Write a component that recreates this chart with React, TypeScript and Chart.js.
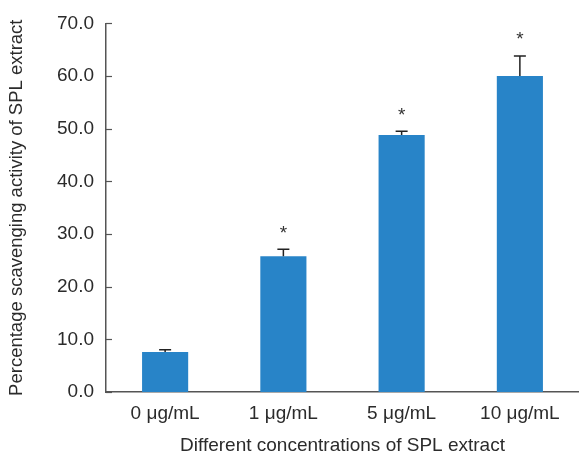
import React, { useEffect, useRef } from "react";
import { Chart, registerables } from "chart.js";

Chart.register(...registerables);

const categories = ["0 μg/mL", "1 μg/mL", "5 μg/mL", "10 μg/mL"];
const means = [7.6, 25.8, 48.8, 60.0];
const errors = [0.4, 1.3, 0.7, 3.8];
const significant = [false, true, true, true];
const yTicks = [0, 10, 20, 30, 40, 50, 60, 70];

const FONT = "'Liberation Sans', Arial, Helvetica, sans-serif";
const TEXT = "#2b2b2b";
const AXIS = "#555555";

const overlayPlugin = {
  id: "overlay",
  afterDatasetsDraw(chart: any) {
    const ctx = chart.ctx;
    const x = chart.scales.x;
    const y = chart.scales.y;
    ctx.save();
    // inward y ticks
    ctx.strokeStyle = AXIS;
    ctx.lineWidth = 1.2;
    yTicks.forEach((t) => {
      const py = Math.round(y.getPixelForValue(t)) + 0.5;
      ctx.beginPath();
      ctx.moveTo(x.left, py);
      ctx.lineTo(x.left + 6, py);
      ctx.stroke();
    });
    // error bars and asterisks
    means.forEach((m, i) => {
      const px = x.getPixelForValue(i);
      const top = y.getPixelForValue(m + errors[i]);
      const base = y.getPixelForValue(m);
      ctx.strokeStyle = "#222222";
      ctx.lineWidth = 1.5;
      ctx.beginPath();
      ctx.moveTo(px, base);
      ctx.lineTo(px, top);
      ctx.moveTo(px - 6, top);
      ctx.lineTo(px + 6, top);
      ctx.stroke();
      if (significant[i]) {
        ctx.fillStyle = "#333333";
        ctx.font = `19px ${FONT}`;
        ctx.textAlign = "center";
        ctx.textBaseline = "middle";
        ctx.fillText("*", px, top - 16);
      }
    });
    ctx.restore();
  },
};

export default function App() {
  const ref = useRef<HTMLCanvasElement>(null);
  useEffect(() => {
    if (!ref.current) return;
    const chart = new Chart(ref.current, {
      type: "bar",
      data: {
        labels: categories,
        datasets: [
          {
            data: means,
            backgroundColor: "#2884c8",
            borderWidth: 0,
            barPercentage: 0.39,
            categoryPercentage: 1,
          },
        ],
      },
      options: {
        animation: false,
        responsive: false,
        maintainAspectRatio: false,
        layout: { padding: { top: 23, right: 0, left: 0, bottom: 0 } },
        plugins: {
          legend: { display: false },
          tooltip: { enabled: false },
        },
        scales: {
          x: {
            grid: { display: false, drawTicks: false },
            border: { display: true, color: AXIS, width: 1.5 },
            ticks: {
              color: TEXT,
              font: { family: FONT, size: 19 },
              padding: 10,
              maxRotation: 0,
            },
            title: {
              display: true,
              text: "Different concentrations of SPL extract",
              color: TEXT,
              font: { family: FONT, size: 19 },
              padding: { top: 4, bottom: 0 },
            },
            afterFit(scale: any) {
              scale.height = 65;
            },
          },
          y: {
            min: 0,
            max: 70,
            grid: { display: false, drawTicks: false },
            border: { display: true, color: AXIS, width: 1.5 },
            ticks: {
              stepSize: 10,
              color: TEXT,
              font: { family: FONT, size: 19 },
              padding: 12,
              callback: (v: any) => Number(v).toFixed(1),
            },
            title: {
              display: true,
              text: "Percentage scavenging activity of SPL extract",
              color: TEXT,
              font: { family: FONT, size: 18.5 },
              padding: { top: 6, bottom: 4 },
            },
            afterFit(scale: any) {
              scale.width = 106;
            },
          },
        },
      },
      plugins: [overlayPlugin],
    });
    return () => chart.destroy();
  }, []);
  return (
    <div
      style={{
        position: "fixed",
        top: 0,
        left: 0,
        width: 579,
        height: 457,
        background: "#fff",
        overflow: "hidden",
      }}
    >
      <canvas ref={ref} width={579} height={457} style={{ display: "block" }} />
    </div>
  );
}
